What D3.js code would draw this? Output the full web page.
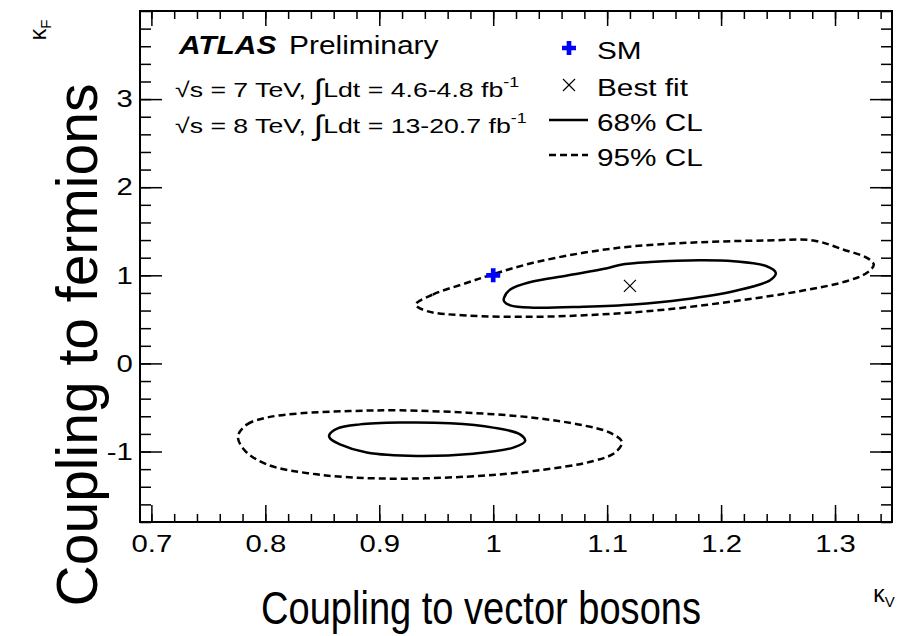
<!DOCTYPE html>
<html>
<head>
<meta charset="utf-8">
<script src="https://cdn.jsdelivr.net/npm/d3@7"></script>
<style>
  body { margin: 0; background: #fff; }
  text { font-family: "Liberation Sans", Arial, Helvetica, sans-serif; fill: #000; }
</style>
</head>
<body>
<div id="graph"></div>
<script>
// contour points (kappaV, kappaF)
let upper68 = [
  [1.0095, 0.745], [1.015, 0.839], [1.032, 0.922], [1.065, 0.998], [1.100, 1.080],
  [1.112, 1.120], [1.138, 1.150], [1.181, 1.171], [1.211, 1.160], [1.240, 1.103],
  [1.248, 1.028], [1.243, 0.944], [1.211, 0.820], [1.167, 0.726], [1.123, 0.669],
  [1.079, 0.643], [1.035, 0.632], [1.015, 0.658], [1.0095, 0.706]
];
let upper95 = [
  [0.932, 0.669], [0.947, 0.782], [0.977, 0.915], [0.999, 1.009], [1.035, 1.142],
  [1.079, 1.255], [1.123, 1.330], [1.181, 1.375], [1.240, 1.395], [1.281, 1.395],
  [1.307, 1.293], [1.328, 1.198], [1.334, 1.122], [1.328, 1.028], [1.310, 0.933],
  [1.269, 0.820], [1.211, 0.706], [1.152, 0.612], [1.094, 0.556], [1.035, 0.529],
  [0.977, 0.544], [0.942, 0.593]
];
let lower68 = [
  [0.856, -0.816], [0.863, -0.740], [0.883, -0.692], [0.918, -0.672], [0.962, -0.680],
  [1.000, -0.729], [1.0235, -0.805], [1.028, -0.881], [1.0176, -0.956], [0.9825, -1.024],
  [0.933, -1.051], [0.889, -1.012], [0.8655, -0.918], [0.857, -0.854]
];
let lower95 = [
  [0.776, -0.824], [0.784, -0.692], [0.801, -0.616], [0.830, -0.567], [0.874, -0.541],
  [0.918, -0.533], [0.977, -0.559], [1.035, -0.616], [1.079, -0.703], [1.1025, -0.786],
  [1.113, -0.892], [1.107, -1.012], [1.088, -1.108], [1.035, -1.221], [0.977, -1.285],
  [0.9035, -1.307], [0.845, -1.259], [0.801, -1.145], [0.781, -0.975]
];
let smPoint = [1.0, 1.0];
let bestFit = [1.12, 0.88];

let xMajor = [0.7, 0.8, 0.9, 1.0, 1.1, 1.2, 1.3];
let yMajor = [-1, 0, 1, 2, 3];
let xLabels = ["0.7", "0.8", "0.9", "1", "1.1", "1.2", "1.3"];
let yLabels = ["-1", "0", "1", "2", "3"];
let legendLabels = ["SM", "Best fit", "68% CL", "95% CL"];

let width = 899, height = 636;
let svg = d3.select("#graph").append("svg")
  .attr("width", width)
  .attr("height", height);

let x = d3.scaleLinear().domain([0.69, 1.35]).range([140, 892]);
let y = d3.scaleLinear().domain([-1.8, 4.0]).range([522, 11]);

let xMinor = d3.range(70, 135, 2).map(v => v / 100);
let yMinor = d3.range(-18, 41, 2).map(v => v / 10);

// the original text is drawn a bit wider than Liberation Sans
let stretch = 1.22;

function styleAxis(g) {
  g.select(".domain").remove();
  g.selectAll("line").attr("stroke", "#000").attr("stroke-width", 1.5);
  g.selectAll("text").style("font-size", "24px")
    .style("font-family", '"Liberation Sans", Arial, sans-serif')
    .attr("transform", `scale(${stretch},1)`);
}

// bottom
svg.append("g").attr("transform", "translate(0,522)")
  .call(d3.axisBottom(x).tickValues(xMinor).tickSize(-8).tickFormat(""))
  .call(styleAxis);
svg.append("g").attr("transform", "translate(0,522)")
  .call(d3.axisBottom(x).tickValues(xMajor).tickSize(-17).tickPadding(13)
    .tickFormat((d, i) => xLabels[i]))
  .call(styleAxis);
// top
svg.append("g").attr("transform", "translate(0,11)")
  .call(d3.axisTop(x).tickValues(xMinor).tickSize(-8).tickFormat(""))
  .call(styleAxis);
svg.append("g").attr("transform", "translate(0,11)")
  .call(d3.axisTop(x).tickValues(xMajor).tickSize(-15).tickFormat(""))
  .call(styleAxis);
// left
svg.append("g").attr("transform", "translate(140,0)")
  .call(d3.axisLeft(y).tickValues(yMinor).tickSize(-11).tickFormat(""))
  .call(styleAxis);
svg.append("g").attr("transform", "translate(140,0)")
  .call(d3.axisLeft(y).tickValues(yMajor).tickSize(-22).tickPadding(6)
    .tickFormat((d, i) => yLabels[i]))
  .call(styleAxis);
// right
svg.append("g").attr("transform", "translate(892,0)")
  .call(d3.axisRight(y).tickValues(yMinor).tickSize(-11).tickFormat(""))
  .call(styleAxis);
svg.append("g").attr("transform", "translate(892,0)")
  .call(d3.axisRight(y).tickValues(yMajor).tickSize(-22).tickFormat(""))
  .call(styleAxis);

// frame
svg.append("rect")
  .attr("x", x(0.69)).attr("y", y(4.0))
  .attr("width", x(1.35) - x(0.69)).attr("height", y(-1.8) - y(4.0))
  .attr("fill", "none").attr("stroke", "#000").attr("stroke-width", 2);

// contours
let line = d3.line()
  .x(d => x(d[0])).y(d => y(d[1]))
  .curve(d3.curveCatmullRomClosed.alpha(0.5));

let contours = [
  { pts: upper95, dash: "7,4" },
  { pts: lower95, dash: "7,4" },
  { pts: upper68, dash: null },
  { pts: lower68, dash: null }
];
svg.selectAll("path.contour")
  .data(contours)
  .enter()
  .append("path")
  .attr("class", "contour")
  .attr("d", d => line(d.pts))
  .attr("fill", "none")
  .attr("stroke", "#000")
  .attr("stroke-width", 2.5)
  .attr("stroke-dasharray", d => d.dash);

// markers
svg.append("path")
  .attr("d", d3.symbol(d3.symbolCross, 109)())
  .attr("transform", `translate(${x(smPoint[0])},${y(smPoint[1])})`)
  .attr("fill", "#0000ff");
svg.append("path")
  .attr("d", d3.symbol(d3.symbolX, 96)())
  .attr("transform", `translate(${x(bestFit[0])},${y(bestFit[1])})`)
  .attr("fill", "none").attr("stroke", "#000").attr("stroke-width", 1.2);

// text helper: horizontally stretched like the original
function label(px, py, size, sx) {
  return svg.append("text")
    .attr("transform", `translate(${px},${py}) scale(${sx || stretch},1)`)
    .style("font-size", size + "px");
}

// ATLAS label
let atl = svg.append("text")
  .attr("transform", "translate(179,54) scale(1.15,1)")
  .style("font-size", "26px");
atl.append("tspan").style("font-weight", "bold").style("font-style", "italic").text("ATLAS");
atl.append("tspan").attr("dx", 11).text("Preliminary");

function lumiLine(yy, e, lumi) {
  let t = label(175, yy, 21, 1.27);
  t.append("tspan").text("\u221As = " + e + " TeV, ");
  t.append("tspan").style("font-size", "28px").attr("dy", 2).text("\u222B");
  t.append("tspan").attr("dy", -2).text("Ldt = " + lumi + " fb");
  t.append("tspan").style("font-size", "14px").attr("dy", -10).text("-1");
}
lumiLine(97, "7", "4.6-4.8");
lumiLine(133, "8", "13-20.7");

// legend
let legY = [48, 85, 120, 155];
let leg = svg.append("g");
leg.append("path")
  .attr("d", d3.symbol(d3.symbolCross, 109)())
  .attr("transform", `translate(569,${legY[0]})`)
  .attr("fill", "#0000ff");
leg.append("path")
  .attr("d", d3.symbol(d3.symbolX, 96)())
  .attr("transform", `translate(569,${legY[1]})`)
  .attr("fill", "none").attr("stroke", "#000").attr("stroke-width", 1.2);
leg.append("line").attr("x1", 549).attr("x2", 588).attr("y1", legY[2]).attr("y2", legY[2])
  .attr("stroke", "#000").attr("stroke-width", 2.5);
leg.append("line").attr("x1", 549).attr("x2", 588).attr("y1", legY[3]).attr("y2", legY[3])
  .attr("stroke", "#000").attr("stroke-width", 2.5).attr("stroke-dasharray", "7,4");
legendLabels.forEach((d, i) => {
  label(597, legY[i] + 11, 24, 1.24).text(d);
});

// axis titles
svg.append("text")
  .attr("text-anchor", "middle")
  .attr("transform", "translate(97,345) rotate(-90)")
  .style("font-size", "57px")
  .text("Coupling to fermions");
svg.append("text")
  .attr("x", 481).attr("y", 624)
  .attr("text-anchor", "middle")
  .attr("textLength", 440)
  .attr("lengthAdjust", "spacingAndGlyphs")
  .style("font-size", "46px")
  .text("Coupling to vector bosons");

let kf = svg.append("text")
  .attr("transform", "translate(46,30) rotate(-90)")
  .attr("text-anchor", "middle")
  .style("font-size", "23px");
kf.append("tspan").text("\u03BA");
kf.append("tspan").style("font-size", "15px").attr("dy", 5).text("F");

let kv = svg.append("text")
  .attr("x", 884).attr("y", 602)
  .attr("text-anchor", "middle")
  .style("font-size", "23px");
kv.append("tspan").text("\u03BA");
kv.append("tspan").style("font-size", "15px").attr("dy", 5).text("V");
</script>
</body>
</html>
